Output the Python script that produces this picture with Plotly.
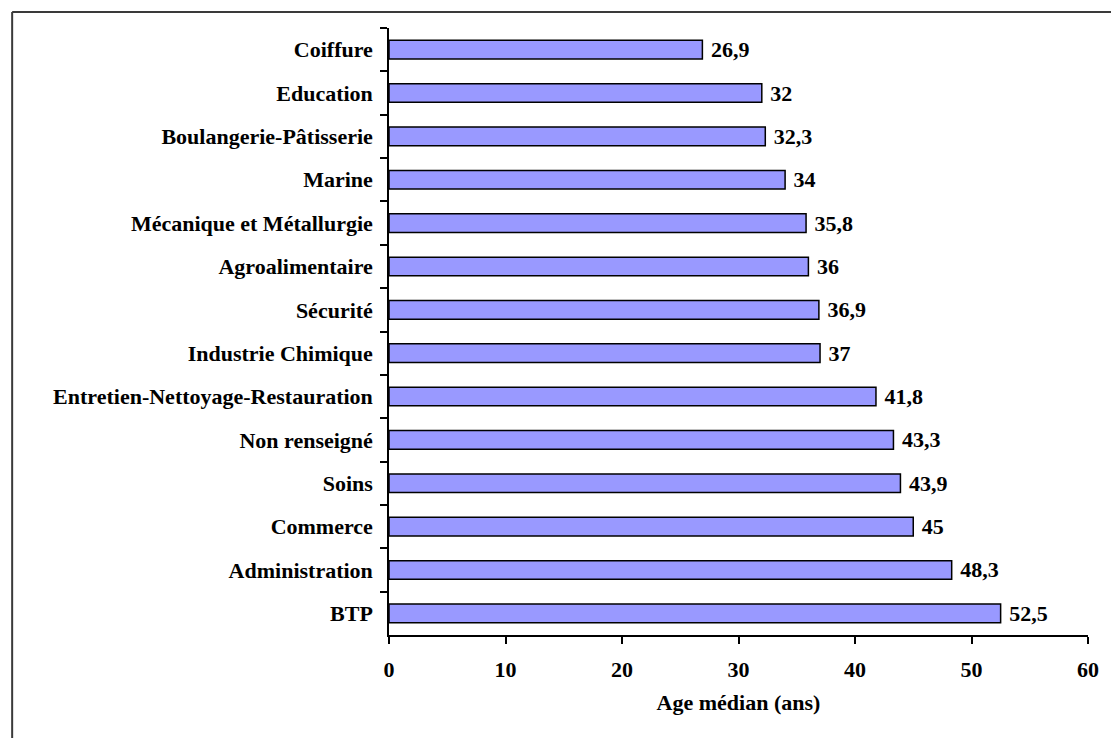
import plotly.graph_objects as go

secteurs = [
    "Coiffure", "Education", "Boulangerie-Pâtisserie", "Marine",
    "Mécanique et Métallurgie", "Agroalimentaire", "Sécurité",
    "Industrie Chimique", "Entretien-Nettoyage-Restauration",
    "Non renseigné", "Soins", "Commerce", "Administration", "BTP",
]
age_median = [26.9, 32, 32.3, 34, 35.8, 36, 36.9, 37, 41.8, 43.3, 43.9, 45, 48.3, 52.5]

x_ticks = [0, 10, 20, 30, 40, 50, 60]
x_title = "Age médian (ans)"

FONT = "'Liberation Serif', 'Times New Roman', 'DejaVu Serif', serif"
FS = 22
W, H = 1111, 738
L, R, T, B = 389, 19, 28, 103

labels = [" " + f"{v:g}".replace(".", ",") for v in age_median]

fig = go.Figure(
    go.Bar(
        x=age_median,
        y=secteurs,
        orientation="h",
        width=0.43,
        marker=dict(color="#9999FF", line=dict(color="#000000", width=1.5)),
        text=labels,
        textposition="outside",
        constraintext="none",
        textfont=dict(family=FONT, size=FS, color="#000000", weight="bold"),
        cliponaxis=False,
        hoverinfo="skip",
    )
)

pw = W - L - R
ph = H - T - B
# outer frame (top and left edges)
fx0 = (10 - L) / pw
fy1 = (H - B - 12) / ph
fig.add_shape(type="line", xref="paper", yref="paper", x0=fx0, x1=1.2, y0=fy1, y1=fy1,
              line=dict(color="#3a3a3a", width=2))
fig.add_shape(type="line", xref="paper", yref="paper", x0=fx0, x1=fx0, y0=fy1, y1=-0.3,
              line=dict(color="#3a3a3a", width=2))

fig.update_layout(
    width=W, height=H,
    margin=dict(l=L, r=R, t=T, b=B, pad=0),
    paper_bgcolor="white", plot_bgcolor="white",
    showlegend=False,
    font=dict(family=FONT, size=FS, color="#000000", weight="bold"),
    xaxis=dict(
        range=[0, 60], tickvals=x_ticks, ticks="outside", ticklen=7, tickwidth=1.5,
        tickcolor="#000000", showline=True, linecolor="#000000", linewidth=1.5,
        showgrid=False, zeroline=False,
        tickfont=dict(family=FONT, size=FS, weight="bold"),
        ticklabelstandoff=7,
        title=dict(text=x_title, font=dict(family=FONT, size=FS, weight="bold"), standoff=13),
    ),
    yaxis=dict(
        autorange="reversed", tickson="boundaries", ticks="outside", ticklen=7,
        tickwidth=1.5, tickcolor="#000000", showline=True, linecolor="#000000",
        linewidth=1.5, showgrid=False, zeroline=False,
        tickfont=dict(family=FONT, size=FS, weight="bold"),
        ticklabelstandoff=10,
    ),
)

fig.write_html("out.html")
